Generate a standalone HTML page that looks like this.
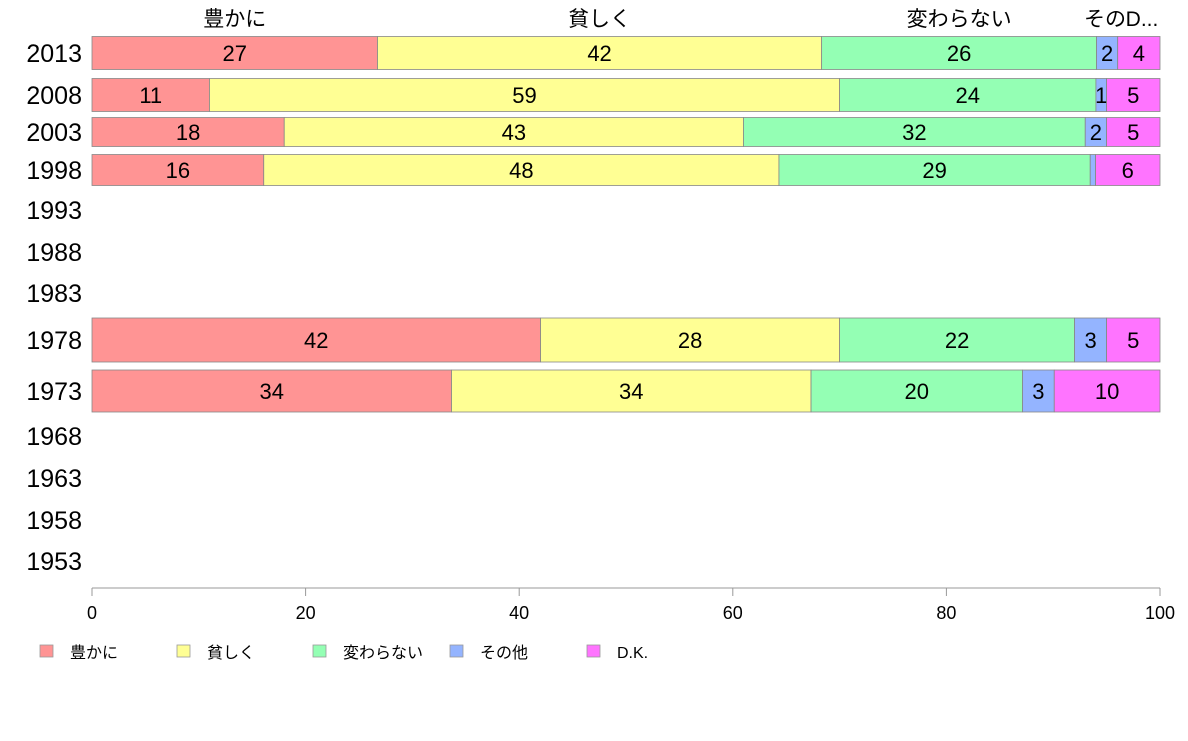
<!DOCTYPE html>
<html><head><meta charset="utf-8"><style>
body{margin:0;background:#fff;}
svg text{font-family:"Liberation Sans","Noto Sans CJK JP",sans-serif;}
</style></head><body>
<svg id="chart" width="1188" height="736" xmlns="http://www.w3.org/2000/svg"></svg>
<script>
const categories=["豊かに","貧しく","変わらない","その他","D.K."];
const colors=["#ff9494","#ffff94","#94ffb4","#94b4ff","#ff74ff"];
const years=["2013","2008","2003","1998","1993","1988","1983","1978","1973","1968","1963","1958","1953"];
const v2013=[27,42,26,2,4];
const v2008=[11,59,24,1,5];
const v2003=[18,43,32,2,5];
const v1998=[16,48,29,0.5,6];
const v1978=[42,28,22,3,5];
const v1973=[34,34,20,3,10];
const seriesByYear={"2013":v2013,"2008":v2008,"2003":v2003,"1998":v1998,"1978":v1978,"1973":v1973};
const xTicks=[0,20,40,60,80,100];
// layout (not data)
const rowCenter=[53,95,132,170,210,252,293,340,391,436,478,520,561];
const rowHeight=[33,33,29,31,0,0,0,44,42,0,0,0,0];
const X0=92,X1=1160;
const x=v=>X0+(X1-X0)*v/100;
const svg=document.getElementById('chart');
const NS="http://www.w3.org/2000/svg";
function mk(t,a,txt){const e=document.createElementNS(NS,t);for(const k in a)e.setAttribute(k,a[k]);if(txt!==undefined)e.textContent=txt;svg.appendChild(e);return e;}
years.forEach((y,i)=>{
  const t=mk('text',{x:82,y:rowCenter[i]+9,'text-anchor':'end','font-size':25,fill:'#000'},y);
  
  
  const vals=seriesByYear[y];
  if(!vals)return;
  const tot=vals.reduce((a,b)=>a+b,0);
  let cum=0;
  vals.forEach((v,j)=>{
    const a=x(cum/tot*100),b=x((cum+v)/tot*100);cum+=v;
    const r=mk('rect',{x:a,y:rowCenter[i]-rowHeight[i]/2,width:b-a,height:rowHeight[i],fill:colors[j],stroke:'#888','stroke-width':0.8});
    
    
    if(v>=1){const lt=mk('text',{x:(a+b)/2,y:rowCenter[i]+8,'text-anchor':'middle','font-size':22,fill:'#000'},String(Math.round(v)));
      
      }
  });
  if(i===0){
    cum=0;
    vals.forEach((v,j)=>{
      const a=x(cum/tot*100),b=x((cum+v)/tot*100);cum+=v;
      let lbl=categories[j],cx=(a+b)/2;
      if(j===3){lbl="その";cx=1105;}
      if(j===4){lbl="D...";cx=1142;}
      const h=mk('text',{x:cx,y:26,'text-anchor':'middle','font-size':21,fill:'#000'},lbl);
      
      
    });
  }
});
const ax=mk('line',{x1:X0,x2:X1,y1:588,y2:588,stroke:'#999','stroke-width':1});


xTicks.forEach(t=>{
  const l=mk('line',{x1:x(t),x2:x(t),y1:588,y2:596,stroke:'#999'});
  
  
  const tx=mk('text',{x:x(t),y:619,'text-anchor':'middle','font-size':18,fill:'#000'},String(t));
  
  
});
const legX=[40,177,313,450,587];
categories.forEach((c,j)=>{
  const r=mk('rect',{x:legX[j],y:645,width:13,height:12,fill:colors[j],stroke:'#999','stroke-width':0.8});
  
  
  const t=mk('text',{x:legX[j]+30,y:658,'font-size':16,fill:'#000'},c);
  
  
});
</script>
</body></html>
